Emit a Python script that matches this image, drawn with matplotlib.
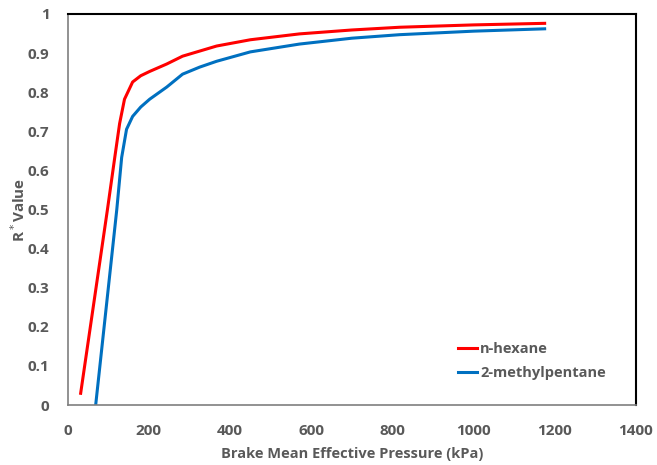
import matplotlib.pyplot as plt

# BMEP (kPa) vs R* value
hex_x = [32, 98, 116, 128, 140, 160, 180, 202, 244, 283, 325, 367, 450, 571, 700, 818, 1000, 1175]
hex_y = [0.03, 0.50, 0.633, 0.72, 0.782, 0.826, 0.842, 0.853, 0.872, 0.892, 0.905, 0.918, 0.934, 0.949, 0.959, 0.966, 0.972, 0.976]

mp_x = [69, 121, 133, 145, 160, 180, 202, 244, 283, 325, 367, 450, 571, 700, 818, 1000, 1175]
mp_y = [0.0, 0.50, 0.633, 0.705, 0.738, 0.762, 0.782, 0.813, 0.846, 0.864, 0.879, 0.903, 0.923, 0.938, 0.947, 0.956, 0.962]

plt.rcParams['font.family'] = ['Open Sans', 'DejaVu Sans']
grey = '#595959'

fig, ax = plt.subplots(figsize=(6.57, 4.65), dpi=100)
fig.subplots_adjust(left=0.103, right=0.968, top=0.970, bottom=0.129)

ax.plot(hex_x, hex_y, color='#ff0000', linewidth=2.2, label='n-hexane')
ax.plot(mp_x, mp_y, color='#0070c0', linewidth=2.2, label='2-methylpentane')

ax.set_xlim(0, 1400)
ax.set_ylim(0, 1)
ax.set_xticks(range(0, 1401, 200))
ax.set_yticks([i / 10 for i in range(11)])
ax.set_yticklabels(['0'] + [f'{i/10:.1f}' for i in range(1, 10)] + ['1'])
ax.tick_params(length=0, labelsize=11, labelcolor=grey)
ax.tick_params(axis='x', pad=14)
ax.tick_params(axis='y', pad=13)
for lab in ax.get_xticklabels() + ax.get_yticklabels():
    lab.set_fontweight('bold')

for side in ['top', 'right']:
    ax.spines[side].set_color('black')
    ax.spines[side].set_linewidth(1.5)
for side in ['left', 'bottom']:
    ax.spines[side].set_color('#7f7f7f')
    ax.spines[side].set_linewidth(1.2)

ax.set_xlabel('Brake Mean Effective Pressure (kPa)', fontsize=10.5, fontweight='bold',
              color=grey, labelpad=6)
ax.set_ylabel(r'R$^*$Value', fontsize=11, fontweight='bold', color=grey, labelpad=0)

leg = ax.legend(loc='lower right', bbox_to_anchor=(0.97, 0.03), frameon=False,
                handlelength=1.3, handletextpad=0.2, labelspacing=0.7,
                prop={'weight': 'bold', 'size': 10.5})
for t in leg.get_texts():
    t.set_color(grey)

plt.savefig('out.png', dpi=100)
